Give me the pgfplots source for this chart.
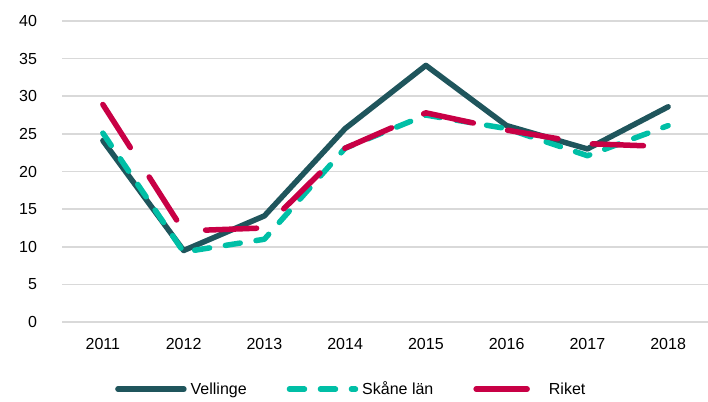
\documentclass[border=0pt]{standalone}
\usepackage{pgfplots}
\pgfplotsset{compat=1.18}
\usepackage{fontspec}
\setmainfont{Liberation Sans}
\definecolor{vel}{HTML}{1F555C}
\definecolor{sk}{HTML}{00BFA6}
\definecolor{rik}{HTML}{C80045}
\begin{document}
\begin{tikzpicture}[x=1pt,y=1pt]
\useasboundingbox (0,0) rectangle (708,401);
\begin{axis}[
  at={(62.5pt,79pt)}, anchor=south west,
  scale only axis, width=646pt, height=301pt,
  xmin=-0.5, xmax=7.5, ymin=0, ymax=40,
  xtick={0,...,7}, xticklabels={2011,2012,2013,2014,2015,2016,2017,2018},
  ytick={0,5,...,40},
  ymajorgrids, grid style={color=black!15, line width=1.5pt},
  axis line style={draw=none},
  tick style={draw=none},
  clip=false,
  /pgf/number format/assume math mode=true,
  tick label style={font=\fontsize{16}{19}\selectfont},
  yticklabel style={xshift=-22pt},
  xticklabel style={yshift=-13pt},
  legend columns=3,
  legend style={draw=none, at={(0.447,-0.223)}, anchor=center,
    font=\fontsize{16}{19}\selectfont,
    /tikz/every odd column/.append style={column sep=2pt},
    /tikz/every even column/.append style={column sep=38pt}},
  legend image code/.code={\draw[#1] (0pt,0pt) -- (66pt,0pt);},
]
\addplot[vel, line width=5.5pt, line join=round, line cap=round]
  coordinates {(0,24.1)(1,9.5)(2,14.1)(3,25.7)(4,34.1)(5,26.1)(6,23.0)(7,28.6)};
\addlegendentry{Vellinge}
\addplot[sk, line width=5.5pt, line join=round, line cap=round, dash pattern=on 15pt off 16pt]
  coordinates {(0,25.1)(1,9.3)(2,11.0)(3,23.1)(4,27.5)(5,25.7)(6,22.1)(7,26.1)};
\addlegendentry{Skåne län}
\addplot[rik, line width=5.5pt, line join=round, line cap=round, dash pattern=on 51pt off 35pt]
  coordinates {(0,28.9)(1,12.1)(2,12.5)(3,23.1)(4,27.8)(5,25.5)(6,23.7)(7,23.3)};
\addlegendentry{Riket}
\end{axis}
\end{tikzpicture}
\end{document}
